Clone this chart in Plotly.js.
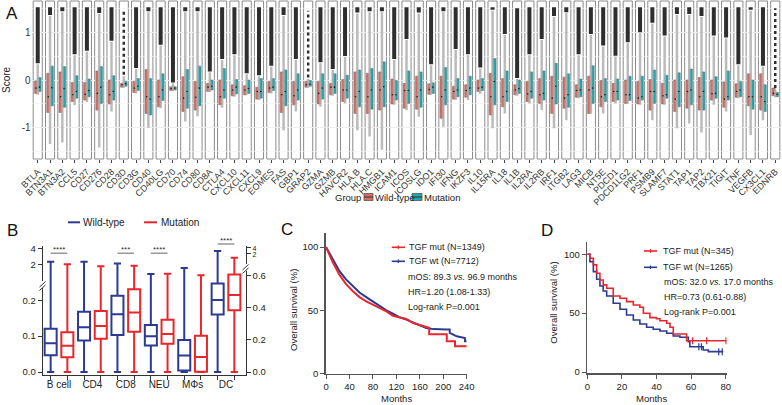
<!DOCTYPE html>
<html><head><meta charset="utf-8">
<script src="https://cdn.plot.ly/plotly-3.0.1.min.js"></script>
<style>html,body{margin:0;padding:0;background:#fff}#chart{width:782px;height:405px}</style>
</head><body><div id="chart"></div>
<script>
// ---------------- Panel A data ----------------
const genes = ['BTLA','BTN3A1','BTN3A2','CCL5','CD27','CD276','CD28','CD3D','CD3G','CD40',
 'CD40LG','CD70','CD74','CD80','CD8A','CTLA4','CXCL10','CXCL11','CXCL9','EOMES',
 'FAS','GBP1','GRAP2','GZMA','GZMB','HAVCR2','HLA.B','HLA.C','HMGB1','ICAM1',
 'ICOS','ICOSLG','IDO1','IFI30','IFNG','IKZF3','IL10','IL15RA','IL18','IL1B',
 'IL2RA','IL2RB','IRF1','ITGB2','LAG3','MICB','NT5E','PDCD1','PDCD1LG2','PRF1',
 'PSMB9','SLAMF7','STAT1','TAP1','TAP2','TBX21','TIGIT','TNF','VEGFB','CX3CL1','EDNRB'];
const wtQ1 = [-0.28,-0.68,-0.68,-0.45,-0.42,-0.63,-0.50,-0.15,-0.26,-0.70,
 -0.56,-0.22,-0.66,-0.63,-0.24,-0.52,-0.33,-0.31,-0.40,-0.26,
 -0.68,-0.52,-0.15,-0.50,-0.31,-0.45,-0.70,-0.70,-0.63,-0.50,
 -0.59,-0.61,-0.30,-0.80,-0.40,-0.36,-0.24,-0.73,-0.56,-0.31,
 -0.45,-0.49,-0.70,-0.59,-0.36,-0.70,-0.56,-0.45,-0.49,-0.50,
 -0.63,-0.50,-0.66,-0.59,-0.63,-0.42,-0.57,-0.36,-0.54,-0.63,-0.33];
const wtMed = [-0.17,-0.35,-0.35,-0.31,-0.30,-0.28,-0.31,-0.10,-0.17,-0.35,
 -0.35,-0.18,-0.38,-0.36,-0.15,-0.35,-0.21,-0.21,-0.24,-0.17,
 -0.31,-0.33,-0.10,-0.28,-0.15,-0.21,-0.35,-0.35,-0.21,-0.31,
 -0.22,-0.35,-0.20,-0.35,-0.24,-0.22,-0.17,-0.35,-0.35,-0.21,
 -0.29,-0.31,-0.38,-0.38,-0.22,-0.21,-0.35,-0.24,-0.31,-0.38,
 -0.24,-0.33,-0.40,-0.24,-0.35,-0.29,-0.40,-0.24,-0.35,-0.35,-0.28];
const wtQ3 = [-0.02,0.14,0.17,-0.05,-0.05,0.19,0.00,-0.07,-0.03,0.22,
 0.00,-0.14,0.07,-0.03,-0.07,0.00,-0.10,-0.12,-0.15,-0.03,
 0.17,-0.03,-0.03,-0.03,-0.07,0.01,0.17,0.14,0.17,0.02,
 -0.07,0.08,-0.08,0.08,-0.13,-0.10,0.00,0.14,0.03,-0.10,
 -0.03,0.03,0.08,0.06,-0.10,0.08,-0.01,-0.07,0.00,-0.03,
 0.01,-0.07,0.00,0.00,0.05,0.00,-0.04,-0.08,0.13,0.13,-0.17];
const mutQ1 = [-0.24,-0.54,-0.57,-0.38,-0.35,-0.49,-0.42,-0.13,-0.22,-0.73,
 -0.43,-0.21,-0.59,-0.54,-0.21,-0.38,-0.29,-0.28,-0.38,-0.22,
 -0.54,-0.42,-0.13,-0.40,-0.28,-0.38,-0.56,-0.61,-0.56,-0.42,
 -0.49,-0.57,-0.28,-0.52,-0.35,-0.31,-0.22,-0.52,-0.45,-0.28,
 -0.38,-0.42,-0.50,-0.57,-0.35,-0.49,-0.45,-0.42,-0.43,-0.42,
 -0.49,-0.38,-0.56,-0.52,-0.63,-0.38,-0.42,-0.35,-0.61,-0.66,-0.35];
const mutMed = [-0.15,-0.16,-0.18,-0.24,-0.22,-0.15,-0.24,-0.08,-0.13,-0.40,
 -0.21,-0.17,-0.24,-0.17,-0.13,-0.21,-0.15,-0.18,-0.24,-0.15,
 -0.24,-0.21,-0.09,-0.17,-0.15,-0.21,-0.24,-0.21,-0.14,-0.31,
 -0.22,-0.21,-0.15,-0.21,-0.21,-0.17,-0.15,-0.03,-0.24,-0.18,
 -0.24,-0.28,-0.13,-0.31,-0.21,-0.17,-0.31,-0.24,-0.31,-0.35,
 -0.24,-0.31,-0.24,-0.21,-0.24,-0.28,-0.35,-0.21,-0.35,-0.45,-0.30];
const mutQ3 = [0.05,0.29,0.28,0.09,0.02,0.28,0.09,-0.03,0.03,0.03,
 0.13,-0.14,0.22,0.29,0.00,0.24,0.01,0.00,0.03,0.03,
 0.21,0.13,-0.01,0.13,0.13,0.10,0.21,0.24,0.38,-0.01,
 0.19,0.17,-0.06,0.26,0.03,0.08,0.03,0.45,0.19,0.00,
 0.17,0.19,0.35,0.13,0.02,0.30,0.03,0.02,0.08,0.08,
 0.21,0.10,0.15,0.23,0.17,0.07,0.19,-0.03,0.00,-0.10,-0.26];
const whiskLo = [-0.31,-1.34,-1.31,-0.53,-0.46,-1.41,-0.66,-0.16,-0.28,-1.00,
 -0.59,-0.23,-0.87,-0.76,-0.25,-0.58,-0.35,-0.30,-0.42,-0.28,
 -1.05,-0.66,-0.16,-0.56,-0.33,-0.49,-1.05,-1.18,-1.46,-0.52,
 -0.63,-0.77,-0.31,-0.98,-0.42,-0.42,-0.29,-1.01,-0.70,-0.33,
 -0.49,-0.63,-1.01,-0.84,-0.38,-0.70,-0.70,-0.49,-0.49,-0.52,
 -0.84,-0.52,-1.01,-0.91,-1.10,-0.52,-0.66,-0.38,-1.15,-0.84,-0.36];
const whiskHi = [0.33,1.34,1.42,0.52,0.59,1.38,0.80,0.08,0.23,1.42,
 0.72,-0.07,1.42,1.42,0.16,0.42,0.52,0.12,0.08,0.28,
 1.34,0.42,0.02,0.35,0.21,0.48,1.39,1.42,1.42,0.42,
 0.84,1.39,0.31,1.42,0.63,0.52,0.24,1.45,0.94,0.02,
 0.52,0.84,1.32,1.40,0.52,0.94,0.70,0.49,0.77,0.98,
 1.18,0.91,1.36,1.36,1.32,0.91,0.87,0.31,1.45,0.28,-0.20];
const outMax = [1.52,1.52,1.52,1.52,1.52,1.52,1.52,1.48,1.52,1.52,
 1.52,1.52,1.52,1.52,1.52,1.52,1.52,1.52,1.52,1.52,
 1.52,1.52,1.45,1.52,1.52,1.52,1.52,1.52,1.52,1.52,
 1.52,1.52,1.52,1.52,1.52,1.52,1.52,1.52,1.52,1.50,
 1.52,1.52,1.52,1.52,1.52,1.52,1.52,1.52,1.52,1.52,
 1.52,1.52,1.52,1.52,1.52,1.52,1.52,1.52,1.52,1.52,1.50];
const sparseOut = ['CD3D','GRAP2','EDNRB'];

// ---------------- Panel B data ----------------
const cells = ['B cell','CD4','CD8','NEU','M\u03A6s','DC'];
const bWtQ1  = [0.047,0.088,0.103,0.074,0.004,0.358];
const bWtMed = [0.080,0.125,0.161,0.100,0.046,0.449];
const bWtQ3  = [0.121,0.168,0.213,0.131,0.089,0.551];
const bWtMin = [0,0,0,0,0,0];
const bWtMax = [2.25,2.25,2.09,1.32,1.71,2.64];
const bMutQ1  = [0.041,0.093,0.112,0.079,0.001,0.385];
const bMutMed = [0.073,0.128,0.166,0.106,0.042,0.480];
const bMutQ3  = [0.111,0.170,0.231,0.146,0.101,0.607];
const bMutMin = [0,0,0,0,0,0];
const bMutMax = [2.03,1.86,1.89,1.34,1.26,1.16];
const sigCells = ['B cell','CD8','NEU','DC'];
const sigLabels = ['****','***','****','****'];

// ---------------- Panel C data ----------------
const cMutT = [0,11.4,22.9,34,45.7,57,68.6,80,91.4,102.9,114,125.7,137,148.6,160,171,176,176,206,206,220,220,240];
const cMutS = [100,87.9,78,70.7,65,60.4,57,54.4,51.7,49,45.6,44.3,43,39.8,38.5,36.7,36,31,31,25.3,25.3,21.4,21.4];
const cWtT = [0,11.4,22.9,34,45.7,57,68.6,80,91.4,102.9,114,125.7,137,148.6,160,171,183,194,206,211,211,223,234,237,237,240];
const cWtS = [100,90,81,74.4,68.9,64,60.4,56.7,53,49.9,47.2,44.3,42.5,40.4,38.5,35.9,35,34.6,34.6,34.6,32,29.3,28,28,25.3,25.3];

// ---------------- Panel D data ----------------
const dMutT = [0,1.5,3.5,5.4,7.3,9.2,11.2,15,18.9,22.7,26.6,30.4,32.4,36.2,40,42,45.9,47.8,49.7,57.4,80.5];
const dMutS = [100,96.6,91,83.9,78.2,74,71.1,64.6,62.6,59.8,56.9,55,49.9,46.2,45.3,43.6,41.4,38,32.3,26.6,26.6];
const dWtT = [0,1.5,3.5,5.4,7.3,9.2,11.2,15,18.9,22.7,26.6,30.4,34.3,38.1,42,45.9,49.7,53.6,58.4,59.3,67,70,78.6];
const dWtS = [100,93.8,85.3,78.8,73.1,68.8,64.6,58.4,53.3,48.4,44.2,40.8,38,36.3,34.8,32.9,30.6,29.5,25.8,21.5,18.7,17.3,17.3];
const dMutCensT = [60.9,69,80.2];
const dMutCensS = [26.6,26.6,26.6];
const dWtCensT = [64.5,66,76,78];
const dWtCensS = [21.5,21.5,17.3,17.3];

// ---------------- helpers ----------------
const X = p => p/782, Y = p => 1 - p/405;
const FONT = 'Liberation Sans, Arial, sans-serif';
const RED_A = 'rgba(214,100,90,0.95)', TEAL_A = 'rgba(22,160,166,0.95)';
const BLUE = '#2B3A92', RED = '#E8262B';
// broken-axis mapping for panel B (left: first five cells, right: DC)
const posL = v => v <= 0.26 ? v : 0.2999 + 0.04463*Math.log2(v/2);
const posR = v => v <= 0.65 ? v : 0.7396 + 0.0353*Math.log2(v/2);

const traces = [];
const idx = genes.map((g,i)=>i);

// Panel A whiskers (grey) and outliers (dark)
let wx=[], wy=[];
idx.forEach(i=>{ wx.push(i,i,null); wy.push(whiskLo[i], whiskHi[i], null); });
traces.push({type:'scatter',mode:'lines',x:wx,y:wy,xaxis:'x',yaxis:'y',
  line:{color:'rgba(175,175,175,0.85)',width:2.5},hoverinfo:'skip',showlegend:false});
let ox=[], oy=[], sx=[], sy=[];
idx.forEach(i=>{
  if (sparseOut.includes(genes[i])) { sx.push(i,i,null); sy.push(whiskHi[i]+0.03, outMax[i], null); }
  else { ox.push(i,i,null); oy.push(whiskHi[i]+0.02, outMax[i], null); }
});
traces.push({type:'scatter',mode:'lines',x:ox,y:oy,xaxis:'x',yaxis:'y',
  line:{color:'#2e2e2e',width:4},hoverinfo:'skip',showlegend:false});
traces.push({type:'scatter',mode:'lines',x:sx,y:sy,xaxis:'x',yaxis:'y',
  line:{color:'#2e2e2e',width:2.5,dash:'dot'},hoverinfo:'skip',showlegend:false});
traces.push({type:'box',orientation:'v',x:idx.map(i=>i-0.14),q1:wtQ1,median:wtMed,q3:wtQ3,
  width:0.28,fillcolor:RED_A,line:{color:'rgba(110,110,110,0.6)',width:0.6},
  boxpoints:false,xaxis:'x',yaxis:'y',name:'Wild-type',showlegend:false});
traces.push({type:'box',orientation:'v',x:idx.map(i=>i+0.14),q1:mutQ1,median:mutMed,q3:mutQ3,
  width:0.28,fillcolor:TEAL_A,line:{color:'rgba(110,110,110,0.6)',width:0.6},
  boxpoints:false,xaxis:'x',yaxis:'y',name:'Mutation',showlegend:false});
traces.push({type:'scatter',mode:'markers',x:idx.map(i=>i-0.14).concat(idx.map(i=>i+0.14)),
  y:wtMed.concat(mutMed),xaxis:'x',yaxis:'y',marker:{color:'#222',size:1.6},
  hoverinfo:'skip',showlegend:false});

// Panel B boxes
function bBox(xs, q1, md, q3, lo, hi, color, ax, map){
  return {type:'box',orientation:'v',x:xs,q1:q1.map(map),median:md.map(map),q3:q3.map(map),
    lowerfence:lo.map(map),upperfence:hi.map(map),width:0.36,whiskerwidth:0.6,
    fillcolor:'rgba(255,255,255,0)',line:{color:color,width:2},boxpoints:false,
    xaxis:'x2',yaxis:ax,showlegend:false,hoverinfo:'skip'};
}
const nL = 5;
const cIdx = cells.map((c,i)=>i);
traces.push(bBox(cIdx.slice(0,nL).map(i=>i-0.25), bWtQ1.slice(0,nL), bWtMed.slice(0,nL), bWtQ3.slice(0,nL), bWtMin.slice(0,nL), bWtMax.slice(0,nL), BLUE, 'y2', posL));
traces.push(bBox(cIdx.slice(0,nL).map(i=>i+0.25), bMutQ1.slice(0,nL), bMutMed.slice(0,nL), bMutQ3.slice(0,nL), bMutMin.slice(0,nL), bMutMax.slice(0,nL), RED, 'y2', posL));
traces.push(bBox(cIdx.slice(nL).map(i=>i-0.25), bWtQ1.slice(nL), bWtMed.slice(nL), bWtQ3.slice(nL), bWtMin.slice(nL), bWtMax.slice(nL), BLUE, 'y3', posR));
traces.push(bBox(cIdx.slice(nL).map(i=>i+0.25), bMutQ1.slice(nL), bMutMed.slice(nL), bMutQ3.slice(nL), bMutMin.slice(nL), bMutMax.slice(nL), RED, 'y3', posR));

// Panel C
traces.push({type:'scatter',mode:'lines',x:cWtT,y:cWtS,xaxis:'x3',yaxis:'y4',line:{color:BLUE,width:2},showlegend:false,hoverinfo:'skip'});
traces.push({type:'scatter',mode:'lines',x:cMutT,y:cMutS,xaxis:'x3',yaxis:'y4',line:{color:RED,width:2},showlegend:false,hoverinfo:'skip'});
// Panel D
traces.push({type:'scatter',mode:'lines',x:dWtT,y:dWtS,xaxis:'x4',yaxis:'y5',line:{color:BLUE,width:1.6,shape:'hv'},showlegend:false,hoverinfo:'skip'});
traces.push({type:'scatter',mode:'lines',x:dMutT,y:dMutS,xaxis:'x4',yaxis:'y5',line:{color:RED,width:1.6,shape:'hv'},showlegend:false,hoverinfo:'skip'});
traces.push({type:'scatter',mode:'markers',x:dWtCensT,y:dWtCensS,xaxis:'x4',yaxis:'y5',marker:{symbol:'line-ns',size:5,line:{color:BLUE,width:1.2}},showlegend:false,hoverinfo:'skip'});
traces.push({type:'scatter',mode:'markers',x:dMutCensT,y:dMutCensS,xaxis:'x4',yaxis:'y5',marker:{symbol:'line-ns',size:5,line:{color:RED,width:1.2}},showlegend:false,hoverinfo:'skip'});

// ---------------- shapes & annotations ----------------
const shapes = [];
const ann = [];
function txt(t, x, y, o={}){ ann.push(Object.assign({text:t,x:X(x),y:Y(y),xref:'paper',yref:'paper',showarrow:false,
  xanchor:'left',yanchor:'middle',font:{family:FONT,size:9,color:'#222'}},o)); }
function ln(x0,y0,x1,y1,color,w){ shapes.push({type:'line',xref:'paper',yref:'paper',x0:X(x0),y0:Y(y0),x1:X(x1),y1:Y(y1),line:{color:color,width:w}}); }

// facet frames (A)
idx.forEach(i=>shapes.push({type:'rect',xref:'x',yref:'paper',x0:i-0.37,x1:i+0.37,y0:Y(159),y1:Y(1),
  line:{color:'#8c8c8c',width:1},layer:'between'}));

// panel letters
txt('A',12,13,{xanchor:'center',font:{family:FONT,size:17,color:'#111'}});
txt('B',12.5,230,{xanchor:'center',font:{family:FONT,size:17,color:'#111'}});
txt('C',287,229,{xanchor:'center',font:{family:FONT,size:17,color:'#111'}});
txt('D',547,230,{xanchor:'center',font:{family:FONT,size:17,color:'#111'}});

// A axis title and legend
txt('Score',6,80,{xanchor:'center',textangle:-90,font:{family:FONT,size:10,color:'#222'}});
txt('Group',333,197,{font:{family:FONT,size:9.5,color:'#222'}});
shapes.push({type:'rect',xref:'paper',yref:'paper',x0:X(364),x1:X(373),y0:Y(200.5),y1:Y(193.5),fillcolor:RED_A,line:{color:'#555',width:0.8}});
ln(364,197,373,197,'#333',1);
txt('Wild-type',372.5,197,{font:{family:FONT,size:9.5,color:'#222'}});
shapes.push({type:'rect',xref:'paper',yref:'paper',x0:X(412),x1:X(422),y0:Y(200.5),y1:Y(193.5),fillcolor:TEAL_A,line:{color:'#555',width:0.8}});
ln(412,197,422,197,'#333',1);
txt('Mutation',421.5,197,{font:{family:FONT,size:9.5,color:'#222'}});

// B legend
ln(68,222.3,80,222.3,BLUE,2); txt('Wild-type',81,222.3,{font:{family:FONT,size:10,color:'#222'}});
ln(144,222.3,157,222.3,RED,2); txt('Mutation',159,222.3,{font:{family:FONT,size:10,color:'#222'}});
// B significance bars
sigCells.forEach((c,k)=>{
  const i = cells.indexOf(c);
  const yl = c==='DC' ? 244 : 253.3;
  shapes.push({type:'line',xref:'x2',yref:'paper',x0:i-0.25,x1:i+0.25,y0:Y(yl),y1:Y(yl),line:{color:'#999',width:1.5}});
  ann.push({text:sigLabels[k],x:i,y:Y(yl-3.5),xref:'x2',yref:'paper',showarrow:false,xanchor:'center',yanchor:'middle',
    font:{family:FONT,size:8,color:'#333'}});
});
// B axis breaks
shapes.push({type:'rect',xref:'paper',yref:'paper',x0:X(41),x1:X(44.5),y0:Y(288),y1:Y(281),fillcolor:'#fff',line:{width:0}});
ln(39.5,287,45.5,281.5,'#333',1); ln(39.5,290.5,45.5,285,'#333',1);
shapes.push({type:'rect',xref:'paper',yref:'paper',x0:X(244),x1:X(247.5),y0:Y(271),y1:Y(264),fillcolor:'#fff',line:{width:0}});
ln(242.5,270,248.5,264.5,'#333',1); ln(242.5,273.5,248.5,268,'#333',1);

// C legend and stats
ln(391.7,247.3,405,247.3,RED,1.6); ln(398.3,245.5,398.3,249.1,RED,1.2);
txt('TGF mut (N=1349)',407,247.3);
ln(391.7,261.3,405,261.3,BLUE,1.6); ln(398.3,259.5,398.3,263.1,BLUE,1.2);
txt('TGF wt (N=7712)',407,261.3);
txt('mOS: 89.3 <i>vs.</i> 96.9 months',405.7,277.3);
txt('HR=1.20 (1.08-1.33)',405.7,292.3);
txt('Log-rank P=0.001',405.7,307.3);
txt('Overall survival (%)',293,310,{xanchor:'center',textangle:-90,font:{family:FONT,size:9.5,color:'#222'}});
txt('Months',396,398.5,{xanchor:'center',font:{family:FONT,size:9.5,color:'#222'}});
// D legend and stats
ln(644,251,657,251,RED,1.6); ln(650.5,249.2,650.5,252.8,RED,1.2);
txt('TGF mut (N=345)',661.3,251);
ln(644,267.3,657,267.3,BLUE,1.6); ln(650.5,265.5,650.5,269.1,BLUE,1.2);
txt('TGF wt (N=1265)',661.3,267.3);
txt('mOS: 32.0 <i>vs.</i> 17.0 months',661.7,282);
txt('HR=0.73 (0.61-0.88)',661.7,297.3);
txt('Log-rank P=0.001',661.7,312);
txt('Overall survival (%)',552.7,303,{xanchor:'center',textangle:-90,font:{family:FONT,size:9.5,color:'#222'}});
txt('Months',651.7,398.5,{xanchor:'center',font:{family:FONT,size:9.5,color:'#222'}});

// ---------------- layout ----------------
const tf = {family:FONT,size:9.5,color:'#222'};
const layout = {
  width:782,height:405,margin:{l:0,r:0,t:0,b:0},paper_bgcolor:'#fff',plot_bgcolor:'rgba(0,0,0,0)',
  boxmode:'overlay',showlegend:false,font:{family:FONT},
  // A
  xaxis:{domain:[X(31.6),X(781.4)],range:[-0.5,60.5],anchor:'y',tickmode:'array',tickvals:idx,ticktext:genes,
    tickangle:-45,ticks:'outside',ticklen:3,tickcolor:'#444',tickfont:{family:FONT,size:9,color:'#333'},
    showgrid:false,zeroline:false,showline:false},
  yaxis:{domain:[Y(159),Y(1)],range:[-1.653,1.653],anchor:'x',tickmode:'array',tickvals:[-1,0,1],ticktext:['-1','0','1'],
    tickfont:{family:FONT,size:10,color:'#333'},showgrid:true,gridcolor:'#ececec',gridwidth:0.8,zeroline:false,
    minor:{dtick:0.5,tick0:0,showgrid:true,gridcolor:'#f4f4f4',gridwidth:0.6},showline:false,ticks:''},
  // B
  xaxis2:{domain:[X(42.7),X(245.7)],range:[-0.488,5.59],anchor:'y2',tickmode:'array',tickvals:cIdx,ticktext:cells,
    ticks:'',tickfont:{family:FONT,size:10,color:'#222'},showline:true,linecolor:'#333',linewidth:1,
    showgrid:false,zeroline:false,
    minor:{tickmode:'array',tickvals:cIdx.map(i=>i-0.25).concat(cIdx.map(i=>i+0.25)),ticks:'outside',ticklen:4,tickcolor:'#333',showgrid:false}},
  yaxis2:{domain:[Y(375),Y(246)],range:[-0.00837,0.3515],anchor:'x2',tickmode:'array',
    tickvals:[0,0.1,0.2,posL(2),posL(4)],ticktext:['0.0','0.1','0.2','2','4'],ticks:'outside',ticklen:4,tickcolor:'#333',
    tickfont:tf,showline:true,linecolor:'#333',linewidth:1,showgrid:false,zeroline:false},
  yaxis3:{overlaying:'y2',side:'right',anchor:'x2',range:[-0.0187,0.785],tickmode:'array',
    tickvals:[0,0.2,0.4,0.6,posR(2),posR(4)],
    ticktext:['0.0','0.2','0.4','0.6','<span style="font-size:7px">2</span>','<span style="font-size:7px">4</span>'],
    ticks:'outside',ticklen:4,tickcolor:'#333',tickfont:tf,showline:true,linecolor:'#333',linewidth:1,showgrid:false,zeroline:false},
  // C
  xaxis3:{domain:[X(325.8),X(466.7)],range:[-0.5,240],anchor:'y4',tickmode:'array',tickvals:[0,40,80,120,160,200,240],
    ticks:'outside',ticklen:4,tickcolor:'#555',tickfont:tf,showline:true,linecolor:'#555',linewidth:1.5,showgrid:false,zeroline:false},
  yaxis4:{domain:[Y(373.5),Y(233.3)],range:[-0.2,111],anchor:'x3',tickmode:'array',tickvals:[0,50,100],
    ticks:'outside',ticklen:4,tickcolor:'#555',tickfont:tf,showline:true,linecolor:'#555',linewidth:1.5,showgrid:false,zeroline:false},
  // D
  xaxis4:{domain:[X(587.3),X(726.7)],range:[0,80.6],anchor:'y5',tickmode:'array',tickvals:[0,20,40,60,80],
    ticks:'outside',ticklen:4,tickcolor:'#555',tickfont:tf,showline:true,linecolor:'#555',linewidth:1.5,showgrid:false,zeroline:false},
  yaxis5:{domain:[Y(373),Y(241.7)],range:[-0.85,110.7],anchor:'x4',tickmode:'array',tickvals:[0,50,100],
    ticks:'outside',ticklen:4,tickcolor:'#555',tickfont:tf,showline:true,linecolor:'#555',linewidth:1.5,showgrid:false,zeroline:false},
  shapes:shapes, annotations:ann
};
Plotly.newPlot('chart', traces, layout, {displayModeBar:false, staticPlot:true});
</script></body></html>
